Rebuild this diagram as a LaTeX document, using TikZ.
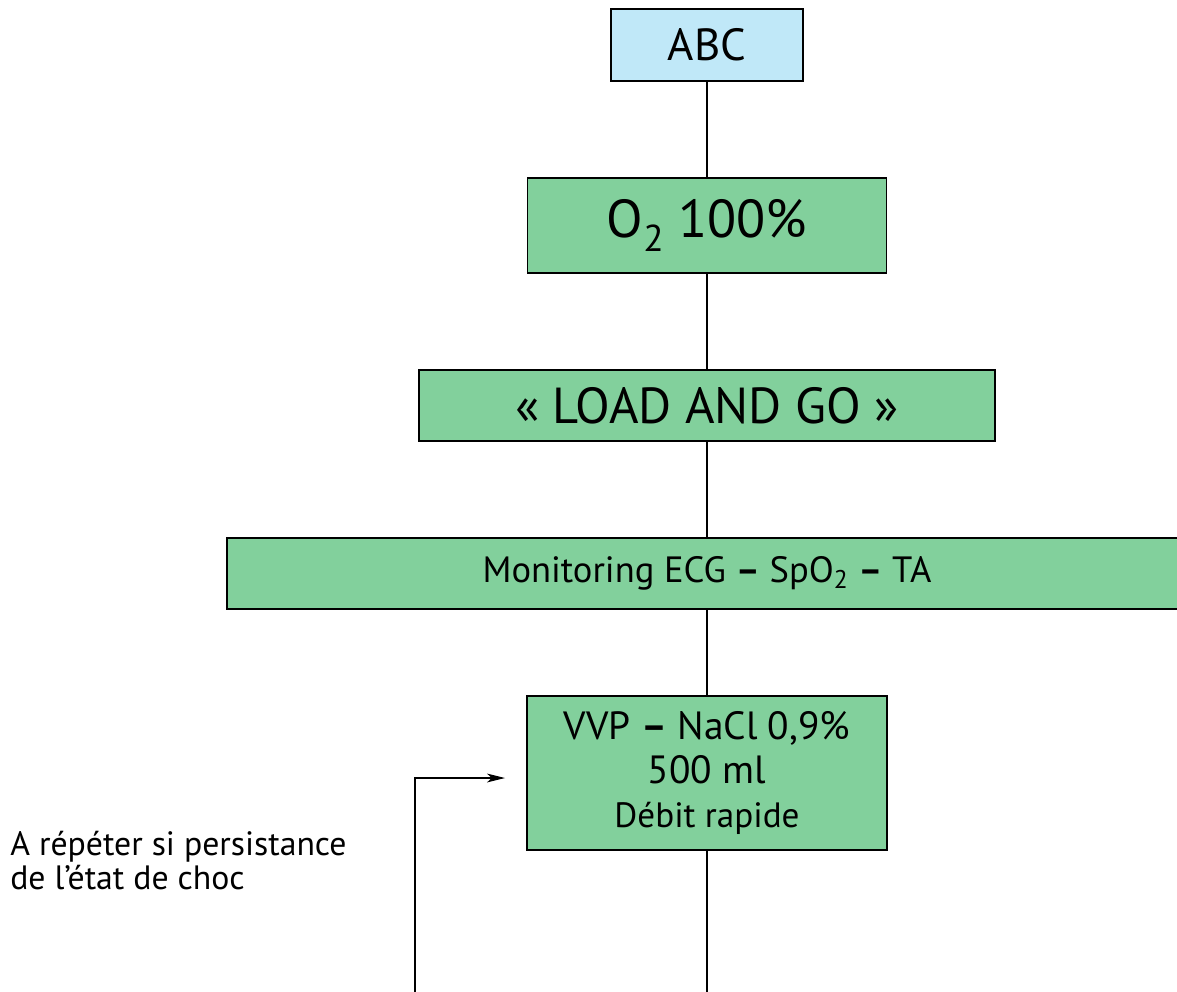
\documentclass[tikz,border=0pt]{standalone}
\usepackage{fontspec}
\setmainfont{PT Sans}
\usepackage{tikz}
\usetikzlibrary{arrows.meta}
\usetikzlibrary{positioning}
\usepackage{xcolor}
\definecolor{boxgreen}{RGB}{130,208,156}
\definecolor{boxblue}{RGB}{192,232,248}

\begin{document}
\begin{tikzpicture}[x=0.025cm,y=-0.025cm,
  box/.style={draw=black,line width=1.3pt,fill=boxgreen,inner sep=0pt,align=center},
  link/.style={line width=0.9pt}]
 \useasboundingbox (0,0) rectangle (1177,992);
 \clip (0,0) rectangle (1177,992);
 \node[box,fill=boxblue,minimum width=4.8cm,minimum height=1.8cm,
   font={\fontsize{32}{36}\selectfont}] (abc) at (707,45) {ABC};
 \node[box,minimum width=8.975cm,minimum height=2.375cm,
   font={\fontsize{38}{44}\selectfont}] (oxy) at (707,225.5) {O\textsubscript{2} 100\%};
 \node[box,minimum width=14.4cm,minimum height=1.775cm,
   font={\fontsize{36}{40}\selectfont}] (load) at (707,405.5) {« LOAD AND GO »};
 \node[box,minimum width=24cm,minimum height=1.775cm,
   font={\fontsize{26}{30}\selectfont}] (monit) at (707,573.5)
   {Monitoring ECG \textbf{–} SpO\textsubscript{2} \textbf{–} TA};
 \node[box,minimum width=9cm,minimum height=3.85cm,
   font={\fontsize{28}{31}\selectfont}] (vvp) at (707,773)
   {VVP \textbf{–} NaCl 0,9\%\\
    500 ml\\
    \fontsize{25}{30}\selectfont Débit rapide};
 \node[anchor=north west,align=left,inner sep=0pt,
   font={\fontsize{24}{24}\selectfont}] (repeat) at (10,831)
   {A répéter si persistance\\de l’état de choc};

 \coordinate (down) at (707,992);
 \coordinate (back) at (415,992);
 \draw[link] (abc) -- (oxy);
 \draw[link] (oxy) -- (load);
 \draw[link] (load) -- (monit);
 \draw[link] (monit) -- (vvp);
 \draw[link] (vvp) -- (down);
 \draw[link,-{Stealth[length=0.45cm,width=0.22cm,inset=0.12cm]}] (back) |- ([xshift=-0.525cm,yshift=-0.125cm]vvp.west);
\end{tikzpicture}
\end{document}
